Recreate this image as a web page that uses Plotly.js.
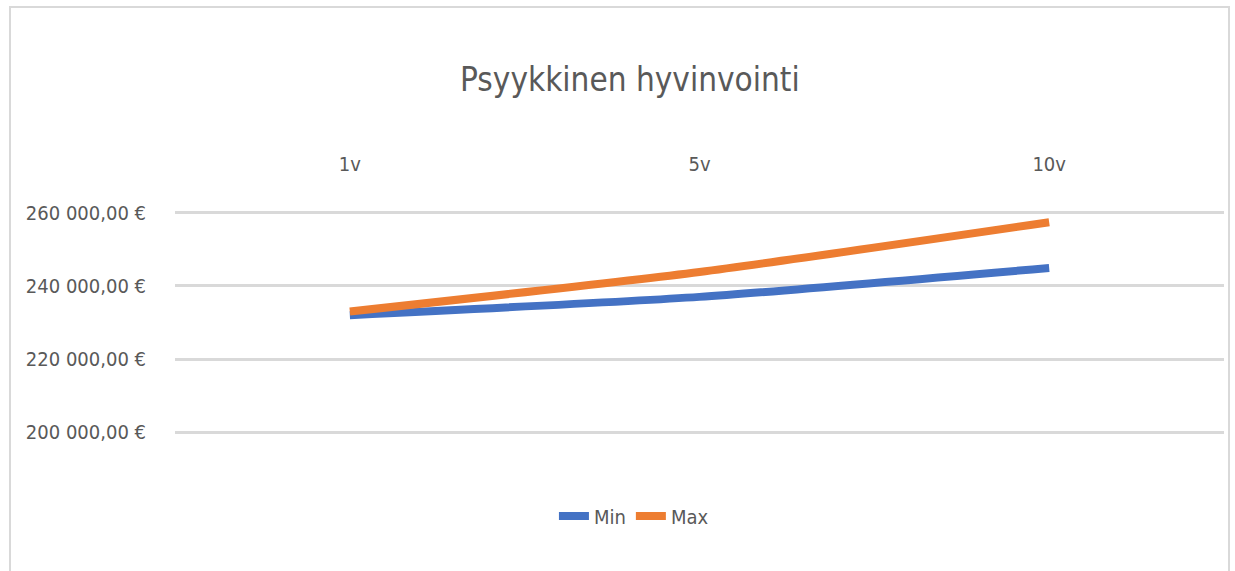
<!DOCTYPE html>
<html>
<head>
<meta charset="utf-8">
<script src="https://cdn.plot.ly/plotly-3.0.1.min.js"></script>
<style>
  html, body { margin: 0; padding: 0; background: #fff; }
  #wrap { position: relative; width: 1235px; height: 571px; overflow: hidden; }
  #frame { position: absolute; left: 9px; top: 6px; width: 1221px; height: 600px; border: 2px solid #d9d9d9; box-sizing: border-box; pointer-events: none; }
  #chart { position: absolute; left: 0; top: 0; width: 1235px; height: 571px; }
</style>
</head>
<body>
<div id="wrap">
  <div id="chart"></div>
  <div id="frame"></div>
</div>
<script>
const categories = ["1v", "5v", "10v"];
const minValues = [232000, 237000, 244900];
const maxValues = [233000, 243800, 257400];
const yTickVals = [200000, 220000, 240000, 260000];
const yTickText = ["200 000,00 €", "220 000,00 €", "240 000,00 €", "260 000,00 €"];

const FONT = "'Liberation Sans Narrow', 'DejaVu Sans Condensed', 'Arial Narrow', sans-serif";

const traces = [
  { x: categories, y: minValues, name: "Min", type: "scatter", mode: "lines",
    line: { color: "#4472C4", width: 8, shape: "spline", smoothing: 0.6 } },
  { x: categories, y: maxValues, name: "Max", type: "scatter", mode: "lines",
    line: { color: "#ED7D31", width: 8, shape: "spline", smoothing: 0.6 } }
];

const layout = {
  width: 1235, height: 571,
  margin: { l: 175, r: 11, t: 209, b: 135 },
  paper_bgcolor: "rgba(0,0,0,0)",
  plot_bgcolor: "rgba(0,0,0,0)",
  font: { family: FONT, color: "#595959", size: 20 },
  title: { text: "Psyykkinen hyvinvointi", x: 0.51, xanchor: "center", y: 0.86, yanchor: "middle",
           font: { family: FONT, size: 33, color: "#595959" } },
  xaxis: { type: "category", side: "top", range: [-0.5, 2.5], showgrid: false, zeroline: false,
           showline: false, ticks: "outside", ticklen: 29, tickcolor: "rgba(0,0,0,0)",
           tickfont: { family: FONT, size: 20, color: "#595959" }, fixedrange: true },
  yaxis: { range: [199000, 261000], tickvals: yTickVals, ticktext: yTickText,
           showgrid: true, gridcolor: "#d9d9d9", gridwidth: 3, zeroline: false, showline: false,
           ticks: "outside", ticklen: 24, tickcolor: "rgba(0,0,0,0)",
           tickfont: { family: FONT, size: 20, color: "#595959" }, fixedrange: true },
  showlegend: true,
  legend: { orientation: "h", x: 0.4375, xanchor: "center", y: -0.352, yanchor: "middle",
            font: { family: FONT, size: 20, color: "#595959" }, bgcolor: "rgba(0,0,0,0)" }
};

Plotly.newPlot("chart", traces, layout, { staticPlot: true, displayModeBar: false });
</script>
</body>
</html>
